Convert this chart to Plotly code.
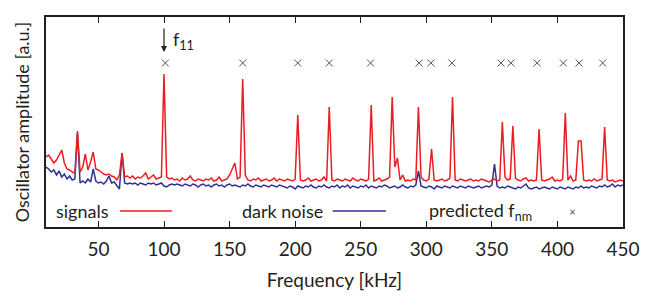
import plotly.graph_objects as go

# sampling grid (kHz)
freq = list(range(10, 451, 2))

signals = [
    70, 72, 68, 64, 67, 72, 77, 64, 58, 57,
    55, 54, 96, 55, 60, 73, 57, 65, 75, 58,
    57, 55, 53, 52, 53, 51, 50, 47, 52, 74,
    50, 51, 49, 51, 48, 50, 49, 51, 54, 48,
    50, 52, 48, 49, 50, 153, 50, 48, 49, 47,
    48, 46, 49, 47, 48, 51, 47, 46, 48, 47,
    46, 48, 47, 49, 46, 47, 50, 46, 47, 48,
    52, 58, 64, 48, 50, 148, 52, 47, 46, 48,
    47, 49, 46, 47, 48, 46, 47, 49, 46, 48,
    47, 46, 48, 47, 46, 48, 112, 47, 46, 47,
    49, 46, 47, 48, 46, 47, 50, 46, 120, 47,
    46, 48, 47, 46, 48, 47, 46, 49, 47, 46,
    48, 47, 46, 48, 122, 46, 47, 49, 46, 47,
    48, 50, 130, 60, 69, 47, 52, 46, 47, 46,
    48, 47, 120, 50, 47, 46, 48, 78, 47, 46,
    47, 48, 46, 47, 49, 130, 47, 46, 48, 47,
    46, 47, 48, 46, 47, 46, 48, 47, 46, 45,
    47, 48, 46, 47, 105, 50, 47, 48, 101, 49,
    47, 46, 48, 49, 46, 47, 46, 47, 98, 47,
    46, 47, 48, 50, 46, 47, 46, 48, 114, 47,
    51, 46, 47, 86, 86, 47, 46, 47, 46, 48,
    46, 47, 48, 100, 47, 46, 47, 45, 46, 47,
    46,
]

dark_noise = [
    60, 58, 55, 57, 52, 56, 50, 53, 48, 51,
    47, 48, 94, 44, 46, 44, 48, 45, 58, 46,
    44, 45, 43, 46, 51, 44, 45, 42, 38, 74,
    44, 43, 44, 43, 44, 42, 44, 43, 42, 44,
    43, 44, 42, 43, 44, 41, 40, 42, 43, 42,
    43, 42, 41, 43, 42, 41, 43, 42, 40, 42,
    43, 41, 42, 40, 42, 43, 41, 42, 40, 42,
    43, 41, 42, 41, 40, 42, 41, 43, 41, 40,
    42, 41, 40, 42, 41, 40, 42, 41, 40, 42,
    41, 40, 39, 41, 40, 38, 41, 40, 39, 41,
    40, 42, 40, 39, 41, 40, 42, 40, 39, 41,
    40, 42, 39, 41, 40, 42, 39, 41, 40, 39,
    41, 40, 42, 39, 41, 40, 39, 41, 40, 42,
    41, 39, 40, 41, 39, 40, 42, 40, 39, 41,
    40, 42, 56, 41, 40, 39, 41, 40, 38, 41,
    40, 39, 41, 40, 39, 41, 40, 39, 41, 40,
    39, 41, 40, 39, 40, 41, 39, 40, 41, 40,
    42, 63, 41, 39, 40, 39, 41, 40, 39, 38,
    40, 39, 41, 43, 39, 38, 39, 40, 38, 39,
    40, 39, 38, 40, 39, 38, 40, 39, 38, 40,
    39, 38, 40, 39, 41, 39, 40, 39, 41, 40,
    39, 41, 40, 42, 40, 41, 43, 40, 42, 41,
    42,
]

predicted = [101, 160, 202, 226, 257.5, 294.5, 303.5, 319.5, 357, 364.5,
             384.5, 404.5, 416.5, 434.5]

x_ticks = [50, 100, 150, 200, 250, 300, 350, 400, 450]

RED = "#ec1c24"
BLUE = "#2e3192"
GRAY = "#555555"
INK = "#231f20"
FONT = "Lato"
FS = 18
MARK_LEVEL = 164

fig = go.Figure()
fig.add_trace(go.Scatter(x=freq, y=dark_noise, mode="lines",
                         line=dict(color=BLUE, width=1.5), name="dark noise"))
fig.add_trace(go.Scatter(x=freq, y=signals, mode="lines",
                         line=dict(color=RED, width=1.5), name="signals"))
fig.add_trace(go.Scatter(x=predicted, y=[MARK_LEVEL] * len(predicted), mode="markers",
                         marker=dict(symbol="x-thin", size=7,
                                     line=dict(color=GRAY, width=1)),
                         name="predicted"))

ann = []
# f11 arrow and label
ann.append(dict(x=100, y=175, xref="x", yref="y", ax=0, ay=-25, text="",
                showarrow=True, arrowhead=2, arrowsize=1, arrowwidth=1.2,
                arrowcolor=INK))
ann.append(dict(x=105.5, y=187, xref="x", yref="y", text="f<sub>11</sub>",
                showarrow=False, xanchor="left", yanchor="middle",
                font=dict(size=FS, color=INK, family=FONT)))
# legend
ann.append(dict(x=0.014, y=0.074, xref="paper", yref="paper", text="signals",
                showarrow=False, xanchor="left", yanchor="middle",
                font=dict(size=FS, color=INK, family=FONT)))
ann.append(dict(x=0.336, y=0.074, xref="paper", yref="paper", text="dark noise",
                showarrow=False, xanchor="left", yanchor="middle",
                font=dict(size=FS, color=INK, family=FONT)))
ann.append(dict(x=0.660, y=0.074, xref="paper", yref="paper", text="predicted f<sub>nm</sub>",
                showarrow=False, xanchor="left", yanchor="middle",
                font=dict(size=FS, color=INK, family=FONT)))
ann.append(dict(x=0.913, y=0.074, xref="paper", yref="paper", text="×",
                showarrow=False, xanchor="center", yanchor="middle",
                font=dict(size=12, color=GRAY, family=FONT)))

shapes = [
    dict(type="line", xref="paper", yref="paper", x0=0.128, x1=0.218, y0=0.076, y1=0.076,
         line=dict(color=RED, width=1.5)),
    dict(type="line", xref="paper", yref="paper", x0=0.497, x1=0.589, y0=0.076, y1=0.076,
         line=dict(color=BLUE, width=1.5)),
]

fig.update_layout(
    width=654, height=300,
    margin=dict(l=46, r=31, t=17, b=73),
    paper_bgcolor="white", plot_bgcolor="white",
    showlegend=False,
    font=dict(family=FONT, size=FS, color=INK),
    annotations=ann, shapes=shapes,
    xaxis=dict(range=[10, 450], tickvals=x_ticks, ticktext=[str(v) for v in x_ticks],
               ticks="inside", ticklen=6, tickwidth=1.2, tickcolor=INK,
               showline=True, linecolor=INK, linewidth=1.5, mirror="ticks",
               showgrid=False, zeroline=False, automargin=False,
               ticklabelstandoff=4,
               tickfont=dict(size=19, family=FONT, color=INK),
               title=dict(text="Frequency [kHz]", font=dict(size=19, family=FONT, color=INK),
                          standoff=15)),
    yaxis=dict(range=[0, 210], showticklabels=False, ticks="",
               showline=True, linecolor=INK, linewidth=1.5, mirror=True,
               showgrid=False, zeroline=False, automargin=False,
               title=dict(text="Oscillator amplitude [a.u.]",
                          font=dict(size=FS, family=FONT, color=INK), standoff=10)),
)

fig.write_html("out.html", config={"displayModeBar": False},
               post_script="document.body.style.margin='0';")
